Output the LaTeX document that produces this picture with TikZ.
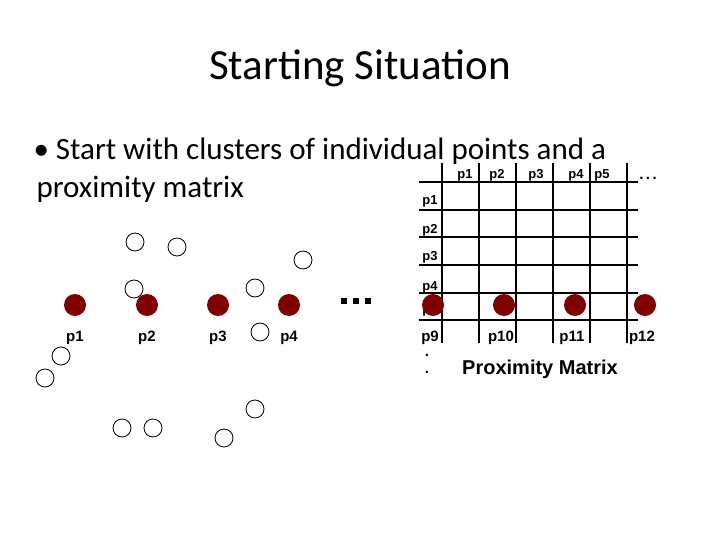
\documentclass[tikz,border=0pt]{standalone}
\usepackage{fontspec}
\setmainfont{Carlito}
\newfontfamily\arialfont{Liberation Sans}
\usetikzlibrary{positioning}
\definecolor{darkred}{RGB}{128,0,0}

\begin{document}
\begin{tikzpicture}[x=1pt, y=-1pt]
    % Styles
    \tikzset{pt/.style={circle, draw=black, thick, fill=white, minimum size=18pt, inner sep=0pt},
             cl/.style={circle, fill=darkred, minimum size=22pt, inner sep=0pt},
             lab/.style={font=\arialfont\bfseries\fontsize{15}{15}\selectfont, inner sep=0pt},
             small lab/.style={font=\arialfont\bfseries\fontsize{13}{13}\selectfont, inner sep=0pt},
             grid line/.style={line width=1.4pt}}
    \useasboundingbox (0,0) rectangle (720,540);

    % Title and text
    \node (title) at (360,68) {\fontsize{43}{50}\selectfont Starting Situation};
    \node[anchor=base west] (bul) at (30,160) {\fontsize{31}{36}\selectfont \textbullet\ Start with clusters of individual points and a};
    \node[anchor=base west] (bul2) at (33,198) {\fontsize{31}{36}\selectfont proximity matrix};

    % Points
    \foreach \x/\y [count=\i] in {135/242, 177/247, 303/260, 134/289, 255/288, 260/332,
        61/356, 45/378, 122/428, 153/428, 224/438, 255/409}
        \node[pt] (q\i) at (\x,\y) {};

    % Clusters
    \foreach \x [count=\i] in {75,147,218,289} {
        \node[cl] (c\i) at (\x,305) {};
        \node[lab] (l\i) at (\x,338) {p\i};
    }
    \foreach \x in {344,356,368}
        \fill (\x-3,298) rectangle (\x+3,304);

    % Matrix
    \foreach \y in {182,210,237,265,293,320}
        \draw[grid line] (419,\y) -- (638,\y);
    \foreach \x in {442,479,516,553,590,627}
        \draw[grid line] (\x,163) -- (\x,343);
    \foreach \x/\t in {465/p1, 497/p2, 536/p3, 576/p4, 602/p5}
        \node[small lab] (h\t) at (\x,175) {\t};
    \node[lab] (hdots) at (648,178) {.\,.\,.};
    \foreach \y/\t in {201/p1, 230/p2, 257/p3, 287/p4, 310/p5}
        \node[small lab] (r\t) at (430,\y) {\t};
    \foreach \x [count=\i from 9] in {433,504,575,645} {
        \node[cl] (m\i) at (\x,305) {};
        \node[lab] (ml\i) at (\x-3,338) {p\i};
    }
    \node[lab] (d1) at (427,355) {.};
    \node[lab] (d2) at (427,372) {.};
    \node[lab, font=\arialfont\bfseries\fontsize{20}{20}\selectfont] (pm) at (540,369) {Proximity Matrix};
\end{tikzpicture}
\end{document}
